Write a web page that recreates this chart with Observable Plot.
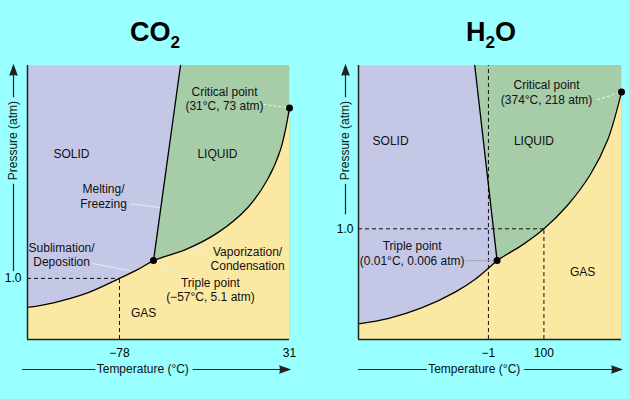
<!DOCTYPE html>
<html><head><meta charset="utf-8">
<script src="https://cdn.jsdelivr.net/npm/d3@7"></script>
<script src="https://cdn.jsdelivr.net/npm/@observablehq/plot@0.6"></script>
<style>
html,body{margin:0;padding:0;background:#99ffff;}
#wrap{width:629px;height:399px;display:flex;overflow:hidden;font-family:"Liberation Sans",Arial,Helvetica,sans-serif;}
.panel{display:flex;flex-direction:column;}
.title{height:50px;position:relative;}
.title span{position:absolute;top:19px;text-align:center;font-weight:bold;font-size:27px;line-height:27px;color:#000;}
.title sub{font-size:17px;vertical-align:-7px;line-height:0;}
svg{display:block;}
</style></head>
<body>
<div id="wrap">
  <div class="panel" id="p1"><div class="title"><span style="left:-5px;right:5px">CO<sub>2</sub></span></div></div>
  <div class="panel" id="p2"><div class="title"><span style="left:33px;right:0px">H<sub>2</sub>O</span></div></div>
</div>
<script>
// Schematic coordinates: temperature axis and pressure axis both run 0–100 (not to scale).
// ---- CO2 ----
const co2Sublimation = [[0,11.7],[9.9,13.4],[22.9,17.0],[35.1,22.3],[42.0,25.5],[48.1,28.8]];
const co2Vaporization = [[48.1,28.8],[60.3,32.8],[72.5,38.9],[84.0,48.1],[91.6,58.4],[96.6,69.4],[100,84.5]];
const co2Melting = [[48.1,28.8],[58.4,100]];
const co2Points = [[48.1,28.8],[100,84.5]]; // triple point, critical point
const co2TempTicks = [35.1, 100];
const co2TempLabels = ["−78", "31"];
const co2PressTicks = [22.3];
const co2PressLabels = ["1.0"];
const co2GuidesH = [{y: 22.3, x1: 0, x2: 35.1}];
const co2GuidesV = [{x: 35.1, y1: 0, y2: 22.3}];
const co2Labels = [
  {text: "SOLID", x: 16.8, y: 67.9},
  {text: "LIQUID", x: 72.5, y: 67.9},
  {text: "GAS", x: 44.3, y: 9.9},
  {text: "Critical point\n(31°C, 73 atm)", x: 75.2, y: 88.1},
  {text: "Melting/\nFreezing", x: 29.0, y: 52.4},
  {text: "Sublimation/\nDeposition", x: 13.0, y: 31.1},
  {text: "Vaporization/\nCondensation", x: 84.0, y: 29.6},
  {text: "Triple point\n(−57°C, 5.1 atm)", x: 69.8, y: 18.4}
];
const co2Leaders = [
  {x1: 39.0, y1: 49.5, x2: 50.6, y2: 48.2},
  {x1: 24.7, y1: 27.8, x2: 39.3, y2: 25.0},
  {x1: 69.8, y1: 32.5, x2: 61.5, y2: 33.6},
  {x1: 48.1, y1: 28.8, x2: 59.0, y2: 22.7}
];
const co2DashedLeaders = [{x1: 90.1, y1: 85.8, x2: 100, y2: 84.5}];

// ---- H2O ----
const h2oSublimation = [[0,5.7],[11.5,7.7],[24.2,11.6],[36.9,17.4],[44.5,22.1],[49.5,26.1],[52.7,28.8]];
const h2oVaporization = [[52.7,28.8],[62.9,34.9],[70.5,40.4],[79.4,48.9],[88.2,60.3],[94.6,72.5],[100,90.3]];
const h2oMelting = [[52.7,28.8],[44.2,100]];
const h2oPoints = [[52.7,28.8],[100,90.3]];
const h2oTempTicks = [49.4, 70.5];
const h2oTempLabels = ["−1", "100"];
const h2oPressTicks = [40.4];
const h2oPressLabels = ["1.0"];
const h2oGuidesH = [{y: 40.4, x1: 0, x2: 70.5}];
const h2oGuidesV = [{x: 49.4, y1: 0, y2: 100}, {x: 70.5, y1: 0, y2: 40.4}];
const h2oLabels = [
  {text: "SOLID", x: 12.2, y: 72.6},
  {text: "LIQUID", x: 66.7, y: 72.8},
  {text: "GAS", x: 85.2, y: 24.8},
  {text: "Critical point\n(374°C, 218 atm)", x: 71.5, y: 90.4},
  {text: "Triple point\n(0.01°C, 0.006 atm)", x: 20.4, y: 31.6}
];
const h2oLeaders = [{x1: 40.7, y1: 28.8, x2: 52.0, y2: 28.8}];
const h2oDashedLeaders = [{x1: 90.8, y1: 87.5, x2: 100, y2: 90.3}];

const BG = "#99ffff", SOLID = "#c4c8e6", LIQUID = "#a6cca8", GAS = "#fbe8a2";
const FONT = "'Liberation Sans', Arial, Helvetica, sans-serif";

function panel(o) {
  const xFmt = new Map(o.xTicks.map((t, i) => [t, o.xLabels[i]]));
  const yFmt = new Map(o.yTicks.map((t, i) => [t, o.yLabels[i]]));
  const boundary = o.sub.concat(o.vap.slice(1));
  const X = d => d[0], Y = d => d[1];
  return Plot.plot({
    width: o.width, height: 349,
    marginLeft: o.marginLeft, marginRight: o.marginRight, marginTop: 15, marginBottom: 60,
    x: {domain: [0, 100]}, y: {domain: [0, 100]},
    style: {background: "transparent", fontFamily: FONT, fontSize: "12px", overflow: "visible", color: "#000"},
    marks: [
      Plot.frame({fill: SOLID, stroke: "none"}),
      Plot.areaX(o.melt, {y: Y, x1: X, x2: () => 100, fill: LIQUID}),
      Plot.areaY(boundary, {x: X, y1: () => 0, y2: Y, fill: GAS, curve: "catmull-rom"}),
      Plot.ruleY(o.gh, {y: "y", x1: "x1", x2: "x2", stroke: "#111", strokeWidth: 1, strokeDasharray: "4,3"}),
      Plot.ruleX(o.gv, {x: "x", y1: "y1", y2: "y2", stroke: "#111", strokeWidth: 1, strokeDasharray: "4,3"}),
      Plot.link(o.leaders, {x1: "x1", y1: "y1", x2: "x2", y2: "y2", stroke: o.leaderColor, strokeWidth: 1}),
      Plot.link(o.dashed, {x1: "x1", y1: "y1", x2: "x2", y2: "y2", stroke: "#f4f4f4", strokeWidth: 1, strokeDasharray: "3,2"}),
      Plot.line(boundary, {x: X, y: Y, curve: "catmull-rom", stroke: "#000", strokeWidth: 1.3}),
      Plot.line(o.melt, {x: X, y: Y, stroke: "#000", strokeWidth: 1.3}),
      Plot.ruleX([0], {stroke: "#222", strokeWidth: 1.5}),
      Plot.ruleY([0], {stroke: "#222", strokeWidth: 1.5}),
      Plot.dot(o.pts, {x: X, y: Y, r: 3.5, fill: "#000", stroke: "none"}),
      Plot.text(o.labels, {x: "x", y: "y", text: "text", fontSize: 12, lineHeight: 1.2, fill: "#111"}),
      Plot.axisX({ticks: o.xTicks, tickFormat: d => xFmt.get(d), tickSize: 0, tickPadding: 9, label: null, fontSize: 12}),
      Plot.axisY({ticks: o.yTicks, tickFormat: d => yFmt.get(d), tickSize: 0, tickPadding: o.yPad, label: null, fontSize: 12}),
      Plot.arrow([0], {x1: () => 0, x2: () => 100, y1: () => 0, y2: () => 0, dy: 30, insetStart: o.xInset,
        stroke: "#222", fill: "#222", strokeWidth: 1.2, headLength: 13, headAngle: 40, strokeMiterlimit: 10}),
      Plot.text(["Temperature (°C)"], {x: () => 44, y: () => 0, dy: 30, text: d => d, fontSize: 12,
        fill: "#111", stroke: BG, strokeWidth: 9}),
      Plot.arrow([0], {x1: () => 0, x2: () => 0, y1: () => o.yTicks[0], y2: () => 100, dx: o.yAxisDx, insetStart: o.yInset,
        stroke: "#222", fill: "#222", strokeWidth: 1.2, headLength: 13, headAngle: 40, strokeMiterlimit: 10}),
      Plot.text(["Pressure (atm)"], {x: () => 0, y: () => 72.6, dx: o.yAxisDx, rotate: -90, text: d => d, fontSize: 12,
        fill: "#111", stroke: BG, strokeWidth: 9})
    ]
  });
}

document.getElementById("p1").append(panel({
  width: 320, marginLeft: 27, marginRight: 31,
  sub: co2Sublimation, vap: co2Vaporization, melt: co2Melting, pts: co2Points,
  xTicks: co2TempTicks, xLabels: co2TempLabels, yTicks: co2PressTicks, yLabels: co2PressLabels,
  gh: co2GuidesH, gv: co2GuidesV, labels: co2Labels, leaders: co2Leaders, dashed: co2DashedLeaders,
  leaderColor: "#e6e8f2", yPad: 6, xInset: -5, yInset: 8, yAxisDx: -14
}));
document.getElementById("p2").append(panel({
  width: 309, marginLeft: 38, marginRight: 8,
  sub: h2oSublimation, vap: h2oVaporization, melt: h2oMelting, pts: h2oPoints,
  xTicks: h2oTempTicks, xLabels: h2oTempLabels, yTicks: h2oPressTicks, yLabels: h2oPressLabels,
  gh: h2oGuidesH, gv: h2oGuidesV, labels: h2oLabels, leaders: h2oLeaders, dashed: h2oDashedLeaders,
  leaderColor: "#a8a8a8", yPad: 5, xInset: 0, yInset: 15, yAxisDx: -13
}));
</script>
</body></html>
